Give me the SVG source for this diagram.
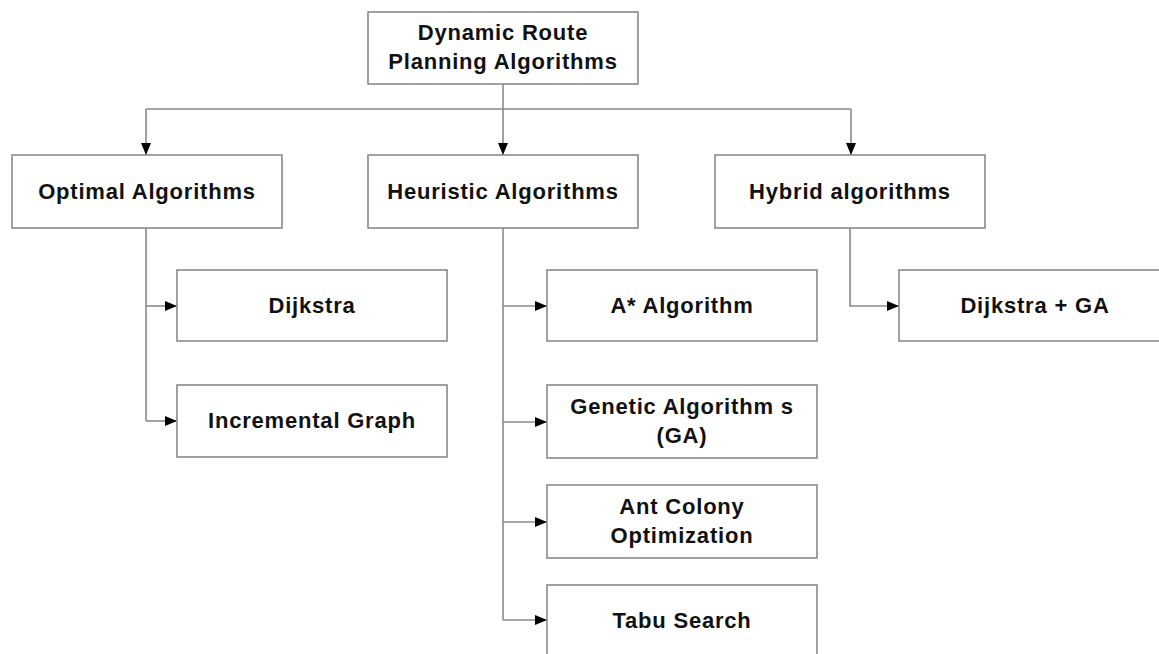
<svg xmlns="http://www.w3.org/2000/svg" width="1159" height="654" viewBox="0 0 1159 654">
<style>
.box{fill:#fff;stroke:#8a8a8a;stroke-width:1.6}
.t{font-family:"Liberation Sans",Arial,sans-serif;font-weight:bold;font-size:22px;fill:#111;text-anchor:middle;letter-spacing:0.8px}
.c{fill:none;stroke:#8a8a8a;stroke-width:1.6}
</style>
<defs>
<marker id="ah" viewBox="0 0 12 10" refX="12" refY="5" markerWidth="12" markerHeight="10" markerUnits="userSpaceOnUse" orient="auto">
<path d="M0,0 L12,5 L0,10 Z" fill="#000"/>
</marker>
</defs>
<rect width="1159" height="654" fill="#fff"/>
<g id="connectors">
<path class="c" d="M503,84 V109"/>
<path class="c" d="M146,109 H851"/>
<path class="c" d="M146,109 V155" marker-end="url(#ah)"/>
<path class="c" d="M503,109 V155" marker-end="url(#ah)"/>
<path class="c" d="M851,109 V155" marker-end="url(#ah)"/>
<path class="c" d="M146,228 V421"/>
<path class="c" d="M146,306 H177" marker-end="url(#ah)"/>
<path class="c" d="M146,421 H177" marker-end="url(#ah)"/>
<path class="c" d="M503,228 V620"/>
<path class="c" d="M503,306 H547" marker-end="url(#ah)"/>
<path class="c" d="M503,422 H547" marker-end="url(#ah)"/>
<path class="c" d="M503,522 H547" marker-end="url(#ah)"/>
<path class="c" d="M503,620 H547" marker-end="url(#ah)"/>
<path class="c" d="M850,228 V306 H899" marker-end="url(#ah)"/>
</g>
<g id="root"><rect class="box" x="368" y="12" width="270" height="72"/>
<text class="t" x="503" y="40">Dynamic Route</text><text class="t" x="503" y="69">Planning Algorithms</text></g>
<g id="optimal"><rect class="box" x="12" y="155" width="270" height="73"/><text class="t" x="147" y="199">Optimal Algorithms</text></g>
<g id="heuristic"><rect class="box" x="368" y="155" width="270" height="73"/><text class="t" x="503" y="199">Heuristic Algorithms</text></g>
<g id="hybrid"><rect class="box" x="715" y="155" width="270" height="73"/><text class="t" x="850" y="199">Hybrid algorithms</text></g>
<g id="dijkstra"><rect class="box" x="177" y="270" width="270" height="71"/><text class="t" x="312" y="313">Dijkstra</text></g>
<g id="incremental"><rect class="box" x="177" y="385" width="270" height="72"/><text class="t" x="312" y="428">Incremental Graph</text></g>
<g id="astar"><rect class="box" x="547" y="270" width="270" height="71"/><text class="t" x="682" y="313">A* Algorithm</text></g>
<g id="genetic"><rect class="box" x="547" y="385" width="270" height="73"/><text class="t" x="682" y="414">Genetic Algorithm s</text><text class="t" x="682" y="443">(GA)</text></g>
<g id="ant"><rect class="box" x="547" y="485" width="270" height="73"/><text class="t" x="682" y="514">Ant Colony</text><text class="t" x="682" y="543">Optimization</text></g>
<g id="tabu"><rect class="box" x="547" y="585" width="270" height="80"/><text class="t" x="682" y="628">Tabu Search</text></g>
<g id="dijkstra-ga"><rect class="box" x="899" y="270" width="270" height="71"/><text class="t" x="1035" y="313">Dijkstra + GA</text></g>
</svg>
